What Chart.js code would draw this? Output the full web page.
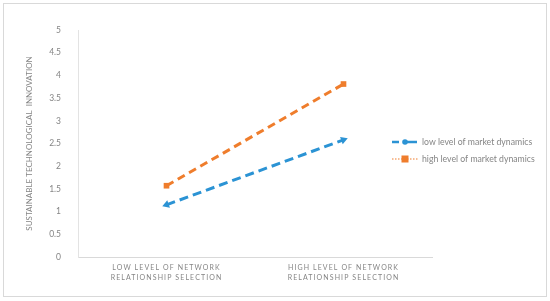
<!DOCTYPE html>
<html>
<head>
<meta charset="utf-8">
<script src="https://cdn.jsdelivr.net/npm/chart.js@4.4.1/dist/chart.umd.min.js"></script>
<style>
  body { margin: 0; background: #fff; }
  #wrap { position: relative; width: 550px; height: 301px; }
</style>
</head>
<body>
<div id="wrap"><canvas id="chartInteraction" width="550" height="301"></canvas></div>
<script>
// values
var categories = [
    ['LOW LEVEL OF NETWORK', 'RELATIONSHIP SELECTION'],
    ['HIGH LEVEL OF NETWORK', 'RELATIONSHIP SELECTION']
];
var lowMarketDynamics = [1.15, 2.58];
var highMarketDynamics = [1.57, 3.81];
var seriesNames = ['low level of market dynamics', 'high level of market dynamics'];
var yAxisTitle = 'SUSTAINABLE TECHNOLOGICAL  INNOVATION';
var yMin = 0, yMax = 5, yStep = 0.5;

var BLUE = '#2b93d4';
var ORANGE = '#ef7d2c';
var TEXT = '#858585';
var FONT = 'Lato, "Open Sans", sans-serif';

// frame round the whole chart
var framePlugin = {
    id: 'frame',
    beforeDraw: function (chart) {
        var ctx = chart.ctx;
        ctx.save();
        ctx.strokeStyle = '#d9d9d9';
        ctx.lineWidth = 1;
        ctx.strokeRect(3.5, 3.5, chart.width - 7, chart.height - 8);
        ctx.restore();
    }
};

// spaced-out category labels under the x axis
var xLabelPlugin = {
    id: 'xLabels',
    afterDraw: function (chart) {
        var ctx = chart.ctx;
        var xs = chart.scales.x;
        ctx.save();
        ctx.font = '7px ' + FONT;
        ctx.fillStyle = TEXT;
        ctx.textAlign = 'center';
        ctx.textBaseline = 'middle';
        ctx.letterSpacing = '1.1px';
        categories.forEach(function (lines, i) {
            var x = xs.getPixelForTick(i);
            lines.forEach(function (line, j) {
                ctx.fillText(line, x, xs.top + 11 + j * 10);
            });
        });
        ctx.restore();
    }
};

// legend to the right, overlapping the plot width like the original
var legendPlugin = {
    id: 'sideLegend',
    afterDraw: function (chart) {
        var ctx = chart.ctx;
        var x0 = 392, y0 = 142, rowGap = 17;
        ctx.save();
        chart.data.datasets.forEach(function (ds, i) {
            var y = y0 + i * rowGap;
            ctx.strokeStyle = ds.borderColor;
            ctx.fillStyle = ds.borderColor;
            if (i === 0) {
                ctx.lineWidth = 2.5;
                ctx.setLineDash([]);
                ctx.beginPath(); ctx.moveTo(x0, y); ctx.lineTo(x0 + 7, y); ctx.stroke();
                ctx.beginPath(); ctx.moveTo(x0 + 11, y); ctx.lineTo(x0 + 25, y); ctx.stroke();
                ctx.beginPath(); ctx.arc(x0 + 13, y, 2.8, 0, Math.PI * 2); ctx.fill();
            } else {
                ctx.lineWidth = 1.2;
                ctx.setLineDash([1.5, 1.5]);
                ctx.beginPath(); ctx.moveTo(x0, y); ctx.lineTo(x0 + 26, y); ctx.stroke();
                ctx.setLineDash([]);
                ctx.fillRect(x0 + 9.5, y - 3.5, 7, 7);
            }
            ctx.font = '8.7px ' + FONT;
            ctx.fillStyle = TEXT;
            ctx.textAlign = 'left';
            ctx.textBaseline = 'middle';
            ctx.fillText(ds.label, x0 + 30, y);
        });
        ctx.restore();
    }
};

var ctx = document.getElementById('chartInteraction').getContext('2d');

new Chart(ctx, {
    type: 'line',
    data: {
        labels: categories.map(function (c) { return c.join(' '); }),
        datasets: [{
            label: seriesNames[0],
            data: lowMarketDynamics,
            borderColor: BLUE,
            backgroundColor: BLUE,
            borderWidth: 3,
            borderDash: [9, 5],
            pointStyle: 'triangle',
            rotation: [250, 70],
            pointRadius: 4.5,
            pointBorderWidth: 0,
            fill: false
        }, {
            label: seriesNames[1],
            data: highMarketDynamics,
            borderColor: ORANGE,
            backgroundColor: ORANGE,
            borderWidth: 3,
            borderDash: [8, 5],
            pointStyle: 'rect',
            pointRadius: 4,
            pointBorderWidth: 0,
            fill: false
        }]
    },
    options: {
        responsive: false,
        animation: false,
        devicePixelRatio: 1,
        layout: { padding: { left: 21, right: 118, top: 30, bottom: 0 } },
        plugins: {
            legend: { display: false },
            tooltip: { enabled: false }
        },
        scales: {
            x: {
                type: 'category',
                offset: true,
                grid: { display: false },
                border: { display: true, color: '#d9d9d9', width: 1 },
                ticks: { display: false },
                afterFit: function (scale) { scale.height = 44; }
            },
            y: {
                min: yMin,
                max: yMax,
                grid: { display: false },
                border: { display: true, color: '#e3e3e3', width: 1 },
                ticks: {
                    stepSize: yStep,
                    color: TEXT,
                    padding: 9,
                    font: { family: FONT, size: 8.5 },
                    callback: function (value) { return String(value); }
                },
                title: {
                    display: true,
                    text: yAxisTitle,
                    color: TEXT,
                    font: { family: FONT, size: 8 },
                    padding: { top: 4, bottom: 4 }
                },
                afterFit: function (scale) { scale.width = 57; }
            }
        }
    },
    plugins: [framePlugin, xLabelPlugin, legendPlugin]
});
</script>
</body>
</html>
